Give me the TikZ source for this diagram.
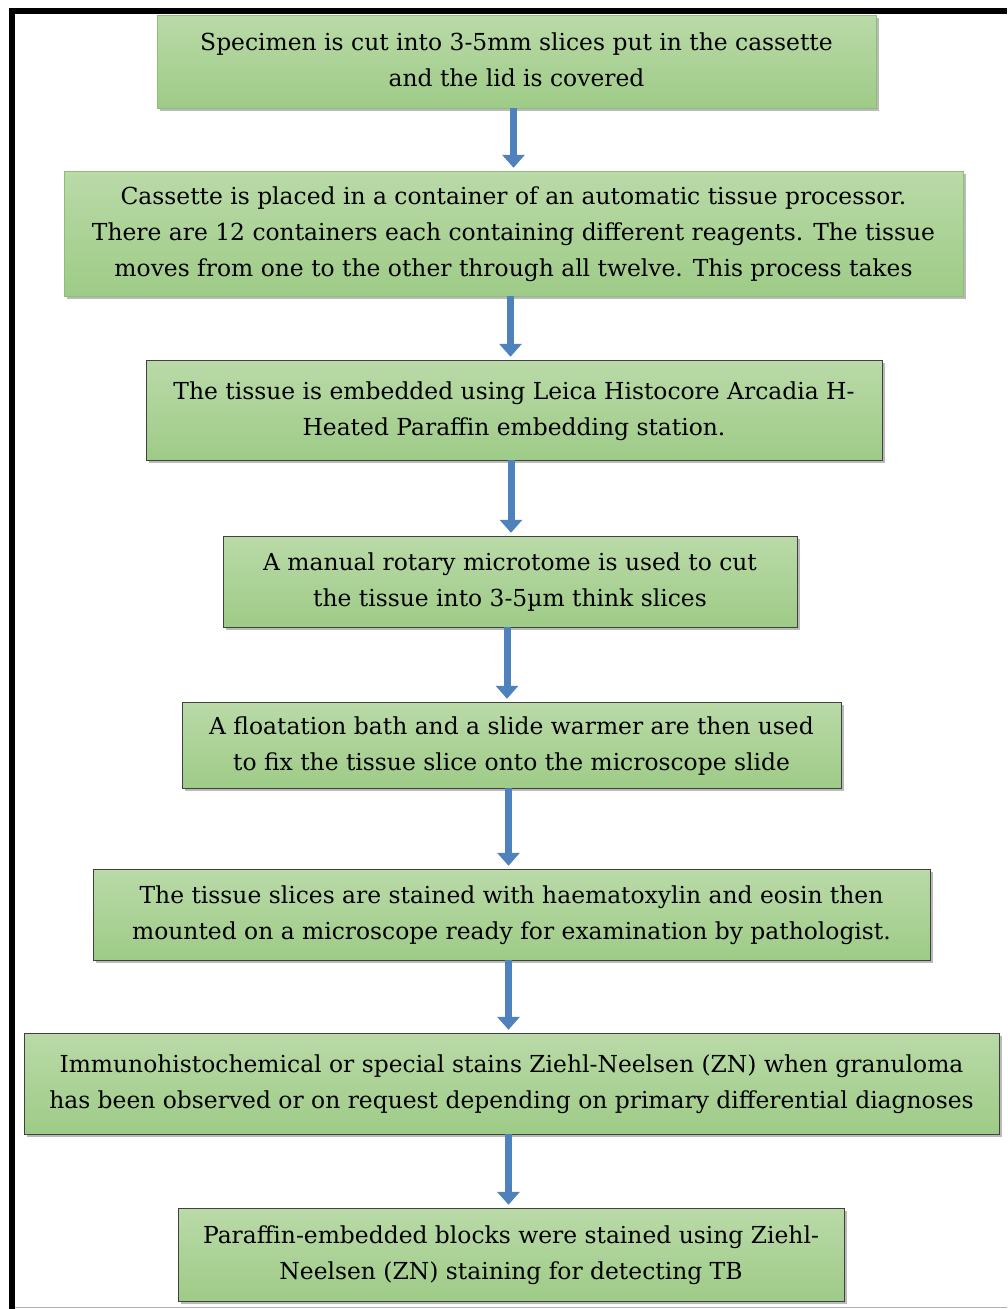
\documentclass[tikz,border=0pt]{standalone}
\usepackage{fontspec}
\setmainfont{DejaVu Serif}
\usepackage{tikz}
\usetikzlibrary{arrows.meta,positioning,shadows}

\definecolor{stepgreen}{RGB}{158,203,135}
\definecolor{steplight}{RGB}{186,218,168}
\definecolor{stepedge}{RGB}{140,190,115}
\definecolor{arrowblue}{RGB}{79,129,189}

\begin{document}
\begin{tikzpicture}[x=1pt, y=-1pt,
     stepbox/.style={draw=stepedge, top color=steplight, bottom color=stepgreen,
       drop shadow={shadow xshift=3pt, shadow yshift=-3pt, fill=black!45, opacity=.6},
       inner sep=0pt, font=\fontsize{23.4}{36}\selectfont},
     darkbox/.style={stepbox, draw=black!75},
     flow/.style={draw=arrowblue, line width=7pt, -{Triangle[width=22pt, length=13pt]}, shorten >=3pt}]
    \useasboundingbox (0,0) rectangle (1007,1309);
    % frame
    \draw[black!30, line width=1pt] (12,1307.5) -- (1007,1307.5);
    \draw[line width=6pt] (12,1309) -- (12,11) -- (1007,11);
    \node[stepbox, minimum width=719pt, minimum height=93pt] (s1) at (516.5, 61.5) {\begin{tabular}{c} Specimen is cut into 3-5mm slices put in the cassette \\ and the lid is covered \end{tabular}};
    \node[stepbox, minimum width=899pt, minimum height=125pt] (s2) at (513.5, 233.5) {\begin{tabular}{c} Cassette is placed in a container of an automatic tissue processor. \\ There are 12 containers each containing different reagents. The tissue \\ moves from one to the other through all twelve. This process takes \end{tabular}};
    \node[darkbox, minimum width=736pt, minimum height=100pt] (s3) at (514, 410) {\begin{tabular}{c} The tissue is embedded using Leica Histocore Arcadia H- \\ Heated Paraffin embedding station. \end{tabular}};
    \node[darkbox, minimum width=574pt, minimum height=91pt] (s4) at (510, 581.5) {\begin{tabular}{c} A manual rotary microtome is used to cut \\ the tissue into 3-5µm think slices \end{tabular}};
    \node[darkbox, minimum width=659pt, minimum height=86pt] (s5) at (511.5, 745) {\begin{tabular}{c} A floatation bath and a slide warmer are then used \\ to fix the tissue slice onto the microscope slide \end{tabular}};
    \node[darkbox, minimum width=837pt, minimum height=91pt] (s6) at (511.5, 914.5) {\begin{tabular}{c} The tissue slices are stained with haematoxylin and eosin then \\ mounted on a microscope ready for examination by pathologist. \end{tabular}};
    \node[darkbox, minimum width=975pt, minimum height=101pt] (s7) at (511.5, 1083.5) {\begin{tabular}{c} Immunohistochemical or special stains Ziehl-Neelsen (ZN) when granuloma \\ has been observed or on request depending on primary differential diagnoses \end{tabular}};
    \node[darkbox, minimum width=666pt, minimum height=93pt] (s8) at (511, 1254.5) {\begin{tabular}{c} Paraffin-embedded blocks were stained using Ziehl- \\ Neelsen (ZN) staining for detecting TB \end{tabular}};
    \foreach \a/\b in {s1/s2, s2/s3, s3/s4, s4/s5, s5/s6, s6/s7, s7/s8}
      \draw[flow] (\a.south) ++(-3,0) coordinate (from-\a) -- (from-\a |- \b.north);
   \end{tikzpicture}
\end{document}
